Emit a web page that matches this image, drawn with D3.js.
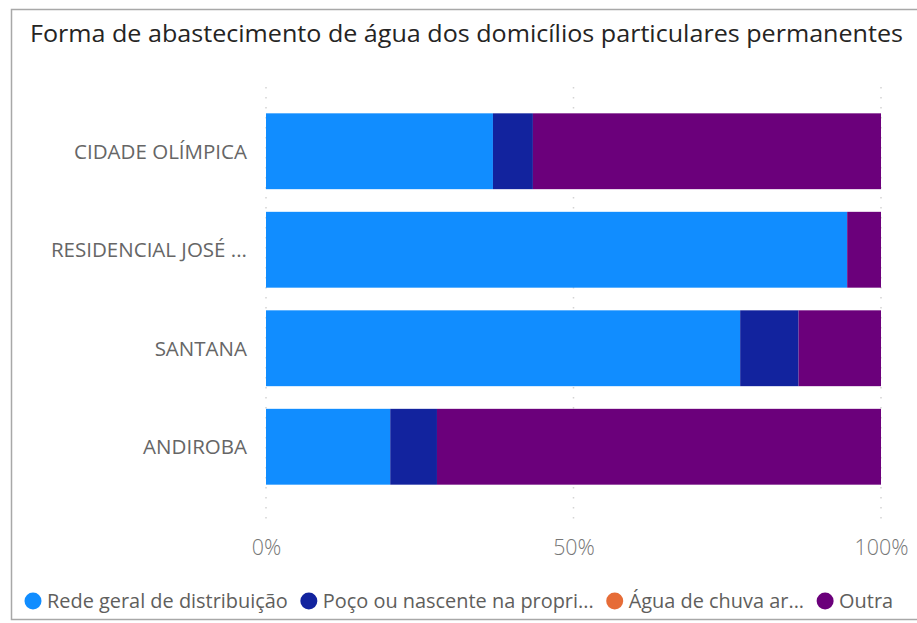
<!DOCTYPE html>
<html>
<head>
<meta charset="utf-8">
<script src="https://cdn.jsdelivr.net/npm/d3@7"></script>
<style>
  body { margin: 0; background: #fff; }
  svg { display: block; }
</style>
</head>
<body>
<div id="chart"></div>
<script>
const categories = ["CIDADE OLÍMPICA", "RESIDENCIAL JOSÉ ...", "SANTANA", "ANDIROBA"]
const seriesNames = ["Rede geral de distribuição", "Poço ou nascente na propri...", "Água de chuva ar...", "Outra"]
const rede = [0.369, 0.945, 0.771, 0.202]
const poco = [0.065, 0, 0.095, 0.076]
const chuva = [0, 0, 0, 0]
const outra = [0.566, 0.055, 0.134, 0.722]
const xTicks = [0, 0.5, 1]
const colors = ["#118DFF", "#12239E", "#E66C37", "#6B007B"]

const W = 917, H = 623
const margin = { top: 102, right: 36, bottom: 127, left: 266 }
const width = W - margin.left - margin.right
const height = H - margin.top - margin.bottom
const FONT = "'Open Sans', 'Noto Sans', sans-serif"

const rows = categories.map((c, i) => ({
    cat: c, s0: rede[i], s1: poco[i], s2: chuva[i], s3: outra[i]
}))
const stack = d3.stack().keys(["s0", "s1", "s2", "s3"])(rows)

// scale the font of a text so it takes the given width
function fitFont(sel, base, target) {
    sel.attr("font-size", base)
    const w = sel.node().getComputedTextLength()
    sel.attr("font-size", base * target / w)
    return base * target / w
}

const svg = d3.select("#chart").append("svg")
    .attr("width", W)
    .attr("height", H)

// visual frame
svg.append("rect")
    .attr("x", 11.5).attr("y", 9.5)
    .attr("width", W).attr("height", 610)
    .attr("fill", "#fff")
    .attr("stroke", "#a8a8a8")
    .attr("stroke-width", 1.5)

const title = svg.append("text")
    .attr("x", 30).attr("y", 42)
    .attr("font-family", FONT)
    .attr("fill", "#252423")
    .text("Forma de abastecimento de água dos domicílios particulares permanentes")
const titleSize = fitFont(title, 20, 873)
title.attr("font-size", Math.min(titleSize, 23))
    .attr("textLength", 873)
    .attr("lengthAdjust", "spacingAndGlyphs")

const g = svg.append("g")
    .attr("transform", `translate(${margin.left}, ${margin.top})`)

const x = d3.scaleLinear().domain([0, 1]).range([0, width])
const y = d3.scaleBand().domain(categories).range([0, height])
    .paddingInner(0.23).paddingOuter(0.115)

// gridlines
g.append("g")
    .selectAll("line")
    .data(xTicks)
    .join("line")
    .attr("x1", d => x(d)).attr("x2", d => x(d))
    .attr("y1", -15).attr("y2", height + 29)
    .attr("stroke", "#d4d4d4")
    .attr("stroke-width", 1.5)
    .attr("stroke-dasharray", "1.5,8.5")

// bars
g.append("g")
    .selectAll("g")
    .data(stack)
    .join("g")
    .attr("fill", (d, i) => colors[i])
    .selectAll("rect")
    .data(d => d)
    .join("rect")
    .attr("x", d => x(d[0]))
    .attr("y", d => y(d.data.cat))
    .attr("width", d => x(d[1]) - x(d[0]))
    .attr("height", y.bandwidth())

// x axis
const xAxis = g.append("g")
    .attr("transform", `translate(0, ${height + 41})`)
    .call(d3.axisBottom(x).tickValues(xTicks).tickFormat(d3.format(".0%")).tickSize(0))
xAxis.select(".domain").remove()
const xt = xAxis.selectAll(".tick text")
    .attr("font-family", FONT)
    .attr("font-weight", 300)
    .attr("fill", "#777")
const tickSize = fitFont(xAxis.selectAll(".tick text").filter(d => d === 1), 16, 54)
xt.attr("font-size", tickSize)

// y axis
const yAxis = g.append("g")
    .attr("transform", "translate(-16, 1)")
    .call(d3.axisLeft(y).tickSize(0))
yAxis.select(".domain").remove()
const yt = yAxis.selectAll(".tick text")
    .attr("font-family", FONT)
    .attr("fill", "#666")
const catSize = fitFont(yAxis.selectAll(".tick text").filter(d => d === categories[0]), 16, 173)
yt.attr("font-size", catSize)

// legend, laid out one item after the other
const legend = svg.append("g")
    .attr("transform", "translate(0, 601)")
const items = legend.selectAll("g")
    .data(seriesNames)
    .join("g")
items.append("circle")
    .attr("r", 8.5)
    .attr("fill", (d, i) => colors[i])
const lt = items.append("text")
    .attr("x", 14)
    .attr("dy", "0.35em")
    .attr("font-family", FONT)
    .attr("fill", "#605E5C")
    .text(d => d)
const legSize = fitFont(lt.filter((d, i) => i === 0), 16, 241)
lt.attr("font-size", legSize)
let cx = 33
items.each(function () {
    const it = d3.select(this)
    it.attr("transform", `translate(${cx}, 0)`)
    cx += 14 + it.select("text").node().getComputedTextLength() + 21
})
</script>
</body>
</html>
